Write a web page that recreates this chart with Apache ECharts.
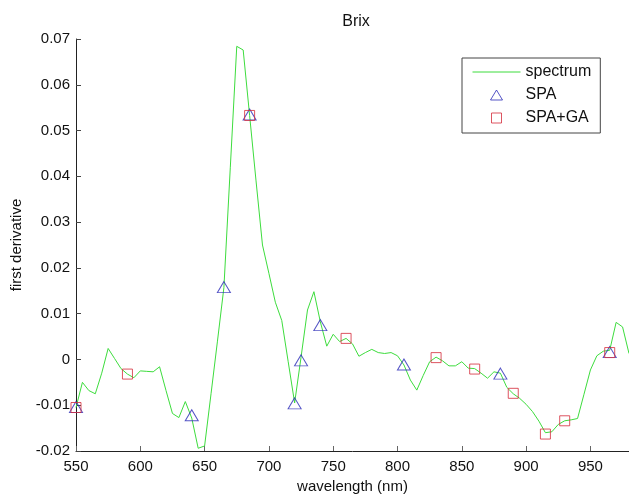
<!DOCTYPE html>
<html>
<head>
<meta charset="utf-8">
<script src="https://cdn.jsdelivr.net/npm/echarts@6/dist/echarts.min.js"></script>
<style>
  html, body { margin: 0; padding: 0; background: #fff; }
  #chart { width: 629px; height: 496px; }
</style>
</head>
<body>
<div id="chart"></div>
<script>
// Wavelength grid (nm) of the first-derivative spectrum
const wavelengths = [
  550, 555, 560, 565, 570, 575, 580, 585, 590, 595,
  600, 605, 610, 615, 620, 625, 630, 635, 640, 645,
  650, 655, 660, 665, 670, 675, 680, 685, 690, 695,
  700, 705, 710, 715, 720, 725, 730, 735, 740, 745,
  750, 755, 760, 765, 770, 775, 780, 785, 790, 795,
  800, 805, 810, 815, 820, 825, 830, 835, 840, 845,
  850, 855, 860, 865, 870, 875, 880, 885, 890, 895,
  900, 905, 910, 915, 920, 925, 930, 935, 940, 945,
  950, 955, 960, 965, 970, 975, 980
];

// First derivative values at each wavelength
const spectrum = [
  -0.0105, -0.0050, -0.0068, -0.0075, -0.0030, 0.0024, 0.0002, -0.0020, -0.0032, -0.0040,
  -0.0025, -0.0026, -0.0027, -0.0016, -0.0068, -0.0118, -0.0127, -0.0092, -0.0128, -0.0194,
  -0.0189, -0.0075, 0.0040, 0.0157, 0.0420, 0.0684, 0.0676, 0.0533, 0.0390, 0.0250,
  0.0188, 0.0125, 0.0085, -0.0005, -0.0095, 0.0005, 0.0108, 0.0148, 0.0082, 0.0029,
  0.0055, 0.0039, 0.0046, 0.0034, 0.0007, 0.0015, 0.0022, 0.0015, 0.0013, 0.0015,
  0.0008, -0.0012, -0.0045, -0.0067, -0.0035, -0.0005, 0.0005, -0.0003, -0.0014, -0.0014,
  -0.0005, -0.0019, -0.0020, -0.0030, -0.0041, -0.0027, -0.0030, -0.0061, -0.0075, -0.0085,
  -0.0098, -0.0114, -0.0135, -0.0160, -0.0158, -0.0142, -0.0134, -0.0132, -0.0129, -0.0076,
  -0.0023, 0.0008, 0.0018, 0.0020, 0.0081, 0.0071, 0.0013
];

// Variables selected by SPA
const spaWavelengths = [550, 640, 665, 685, 720, 725, 740, 805, 880, 965];
const spaValues = [-0.0104, -0.0122, 0.0158, 0.0535, -0.0096, -0.0002, 0.0075, -0.0011, -0.0031, 0.0016];

// Variables selected by SPA+GA
const gaWavelengths = [550, 590, 685, 760, 830, 860, 890, 915, 930, 965];
const gaValues = [-0.0105, -0.0032, 0.0533, 0.0046, 0.0004, -0.0021, -0.0074, -0.0163, -0.0134, 0.0015];

// Axis ranges and ticks
const xRange = [550, 980];
const xStep = 50;
const yRange = [-0.02, 0.07];
const yStep = 0.01;

const pair = (xs, ys) => xs.map((x, i) => [x, ys[i]]);

const FONT = 'Liberation Sans, Arial, sans-serif';
const GREEN = '#3ddc3d';
const BLUE = '#2b2bb8';
const RED = '#d42a3a';

// Legend icons laid out in a 48x11 box (the corner moves pin the box size)
const ICON_LINE = 'path://M0,0M48,11M0,5.5L48,5.5';
const ICON_TRI = 'path://M0,0M48,11M18,10.5L24,0.5L30,10.5Z';
const ICON_SQ = 'path://M0,0M48,11M19,0.5L29,0.5L29,10.5L19,10.5Z';

const chart = echarts.init(document.getElementById('chart'), null, { renderer: 'canvas' });

chart.setOption({
  backgroundColor: '#ffffff',
  animation: false,
  title: {
    text: 'Brix',
    left: 351,
    textAlign: 'center',
    top: 9,
    textStyle: { fontFamily: FONT, fontSize: 16, fontWeight: 'normal', color: '#111' }
  },
  grid: { left: 76, right: 0, top: 39, bottom: 45, containLabel: false, outerBoundsMode: 'none' },
  legend: {
    orient: 'vertical',
    left: 462,
    top: 58,
    padding: [6, 9, 7, 10],
    itemWidth: 48,
    itemHeight: 11,
    itemGap: 7,
    borderColor: '#444',
    borderWidth: 1,
    textStyle: { fontFamily: FONT, fontSize: 16, color: '#111' },
    data: [
      { name: 'spectrum', icon: ICON_LINE, itemStyle: { color: 'rgba(0,0,0,0)', borderColor: GREEN, borderWidth: 1 } },
      { name: 'SPA', icon: ICON_TRI, itemStyle: { color: 'rgba(0,0,0,0)', borderColor: BLUE, borderWidth: 1 } },
      { name: 'SPA+GA', icon: ICON_SQ, itemStyle: { color: 'rgba(0,0,0,0)', borderColor: RED, borderWidth: 1 } }
    ]
  },
  xAxis: {
    type: 'value',
    min: xRange[0],
    max: xRange[1],
    interval: xStep,
    name: 'wavelength (nm)',
    nameLocation: 'middle',
    nameGap: 28,
    nameTextStyle: { fontFamily: FONT, fontSize: 15, color: '#111' },
    splitLine: { show: false },
    axisLine: { show: true, onZero: false, lineStyle: { color: '#222', width: 1 } },
    axisTick: { show: true, inside: true, length: 5, lineStyle: { color: '#666' } },
    axisLabel: { show: true, margin: 8, showMaxLabel: false, fontFamily: FONT, fontSize: 15, color: '#111' }
  },
  yAxis: {
    type: 'value',
    min: yRange[0],
    max: yRange[1],
    interval: yStep,
    name: 'first derivative',
    nameLocation: 'middle',
    nameGap: 52,
    nameTextStyle: { fontFamily: FONT, fontSize: 15, color: '#111' },
    splitLine: { show: false },
    axisLine: { show: true, onZero: false, lineStyle: { color: '#222', width: 1 } },
    axisTick: { show: true, inside: true, length: 5, lineStyle: { color: '#444' } },
    axisLabel: {
      margin: 6, fontFamily: FONT, fontSize: 15, color: '#111',
      formatter: v => String(+v.toFixed(2))
    }
  },
  series: [
    {
      name: 'spectrum',
      type: 'line',
      data: pair(wavelengths, spectrum),
      symbol: 'none',
      showSymbol: false,
      clip: true,
      color: GREEN,
      lineStyle: { color: GREEN, width: 1 },
      z: 2
    },
    {
      name: 'SPA',
      type: 'scatter',
      data: pair(spaWavelengths, spaValues),
      symbol: 'triangle',
      symbolSize: [13, 11],
      color: BLUE,
      itemStyle: { color: 'rgba(0,0,0,0)', borderColor: BLUE, borderWidth: 1 },
      z: 3
    },
    {
      name: 'SPA+GA',
      type: 'scatter',
      data: pair(gaWavelengths, gaValues),
      symbol: 'rect',
      symbolSize: 10,
      color: RED,
      itemStyle: { color: 'rgba(0,0,0,0)', borderColor: RED, borderWidth: 1 },
      z: 4
    }
  ]
});
</script>
</body>
</html>
